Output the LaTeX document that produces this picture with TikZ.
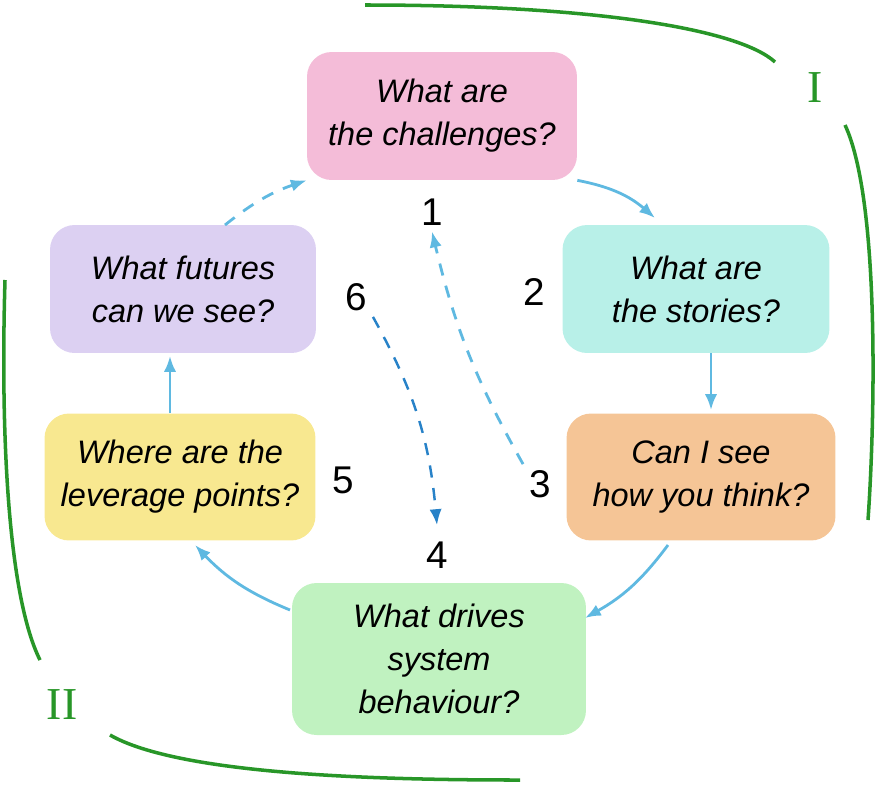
\documentclass[tikz,border=0pt]{standalone}
\usepackage{fontspec}
\setmainfont{Liberation Sans}
\newfontfamily\romfont{Liberation Serif}
\begin{document}
\begin{tikzpicture}[x=0.02cm,y=-0.02cm,
 box/.style={rounded corners=14pt,draw=none,align=center,font=\fontsize{18.5}{24.5}\selectfont\itshape,inner sep=0pt},
 num/.style={font=\fontsize{22}{24}\selectfont},
 ar/.style={draw={rgb,255:red,95;green,185;blue,225},line width=1.6pt,-{Latex[length=9pt,width=7pt]}},
 dar/.style={ar,dashed,dash pattern=on 7pt off 6pt},
 dar2/.style={draw={rgb,255:red,40;green,130;blue,200},line width=1.4pt,dash pattern=on 7pt off 6pt,-{Latex[length=9pt,width=7pt]}},
 br/.style={draw={rgb,255:red,40;green,150;blue,40},line width=2pt},
 rom/.style={text={rgb,255:red,40;green,150;blue,40},font=\fontsize{26}{28}\selectfont\romfont}]
\usetikzlibrary{arrows.meta}
\useasboundingbox (0,0) rectangle (888,788);
\node[box,fill={rgb,255:red,244;green,188;blue,216},minimum width=5.4cm,minimum height=2.56cm] (b1) at (442,116) {What are\\the challenges?};
\node[box,fill={rgb,255:red,184;green,240;blue,232},minimum width=5.34cm,minimum height=2.56cm] (b2) at (696,289) {What are\\the stories?};
\node[box,fill={rgb,255:red,245;green,197;blue,150},minimum width=5.38cm,minimum height=2.54cm] (b3) at (701,477) {Can I see\\how you think?};
\node[box,fill={rgb,255:red,192;green,242;blue,192},minimum width=5.88cm,minimum height=3.04cm] (b4) at (439,659) {What drives\\system\\behaviour?};
\node[box,fill={rgb,255:red,248;green,232;blue,144},minimum width=5.42cm,minimum height=2.54cm] (b5) at (180,477) {Where are the\\leverage points?};
\node[box,fill={rgb,255:red,220;green,208;blue,242},minimum width=5.32cm,minimum height=2.56cm] (b6) at (183,289) {What futures\\can we see?};
\node[num] (n1) at (432,212) {1};
\node[num] (n2) at (534,292) {2};
\node[num] (n3) at (540,484) {3};
\node[num] (n4) at (437,555) {4};
\node[num] (n5) at (343,480) {5};
\node[num] (n6) at (356,297) {6};
\draw[ar] (b1.south east) to[bend left=15] (655,218);
\draw[ar] (711,353) -- (711,410);
\draw[ar] (668,545) to[bend left=12] (585,618);
\draw[ar] (290,610) to[bend left=12] (195,545);
\draw[ar] (170,413) -- (170,356);
\draw[dar] (225,225) to[bend left=10] (b1.south west);
\draw[dar2] (n6.south east) to[bend left=12] (437,525);
\draw[dar] (n3.north west) to[bend left=8] (n1.south);
\draw[br] (365,5) .. controls (600,5) and (740,30) .. (775,62);
\draw[br] (845,125) .. controls (880,200) and (875,420) .. (868,520);
\draw[br] (5,280) .. controls (0,450) and (10,600) .. (40,660);
\draw[br] (110,735) .. controls (180,775) and (380,780) .. (520,780);
\node[rom] (r1) at (815,88) {I};
\node[rom] (r2) at (62,705) {II};
\end{tikzpicture}
\end{document}
